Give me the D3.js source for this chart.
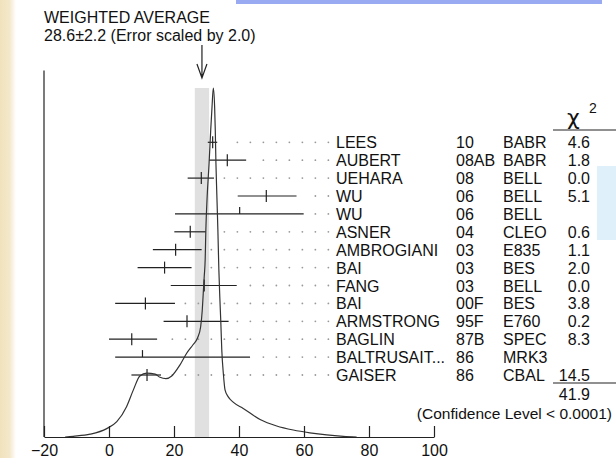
<!DOCTYPE html>
<meta charset="utf-8">
<style>
body { margin: 0; background: #fff; }
text { font-family: "Liberation Sans", Arial, Helvetica, sans-serif; fill: #111; }
.bar { stroke: #222; stroke-width: 1.2px; fill: none; }
.ideo { fill: none; stroke: #333; stroke-width: 1.2px; }
.axis path, .axis line { stroke: #222; stroke-width: 1.2px; }
.axis text { font-size: 16px; }
.dot { fill: #999; }
</style>
<body>
<script src="https://d3js.org/d3.v7.min.js"></script>
<script>
// measurements, top to bottom
var names = ["LEES", "AUBERT", "UEHARA", "WU", "WU", "ASNER", "AMBROGIANI", "BAI", "FANG",
    "BAI", "ARMSTRONG", "BAGLIN", "BALTRUSAIT...", "GAISER"];
var years = ["10", "08AB", "08", "06", "06", "04", "03", "03", "03", "00F", "95F", "87B", "86", "86"];
var techs = ["BABR", "BABR", "BELL", "BELL", "BELL", "CLEO", "E835", "BES", "BELL", "BES",
    "E760", "SPEC", "MRK3", "CBAL"];
var chi2 = ["4.6", "1.8", "0.0", "5.1", "", "0.6", "1.1", "2.0", "0.0", "3.8", "0.2", "8.3", "", "14.5"];
var values = [31.9, 36.4, 28.4, 48.4, 40.2, 25.0, 20.5, 17.1, 29.3, 11.2, 24.0, 7.0, 10.3, 11.7];
var errLo  = [1.5, 5.6, 4.2, 8.8, 19.9, 4.9, 7.0, 8.3, 10.3, 9.3, 7.2, 7.0, 8.4, 4.8];
var errHi  = [1.4, 5.8, 3.9, 9.3, 19.7, 4.8, 8.0, 8.3, 10.0, 9.1, 12.8, 7.8, 33.1, 4.3];
var usedInFit = [1, 1, 1, 1, 0, 1, 1, 1, 1, 1, 1, 1, 0, 1];

// weighted average
var avg = 28.6, avgErr = 2.2;
var chi2Total = "41.9";

// ideogram (x value, relative height)
var curveX = [-13.5, -11, -5.8, -0.7, 2.4, 5.4, 7.5, 9.5, 11.6, 14.2, 15.7, 17.5, 19.3, 21.8, 23.9,
    25.9, 27.3, 28.2, 28.7, 29.0, 29.3, 29.6, 29.8, 30.2, 30.8, 31.3, 31.7, 32.1, 32.5, 32.7, 32.9,
    33.2, 33.5, 33.8, 34.1, 34.4, 34.7, 35.2, 35.7, 36.7, 38.2, 41.3, 46.5, 51.6, 56.7, 61.8, 67, 72.1, 76.2];
var curveY = [0, 0.2, 0.8, 2.4, 4.4, 8.7, 13.5, 17.5, 18.3, 18.0, 17.1, 16.7, 17.5, 20.6, 24.0,
    26.5, 28.5, 31.6, 36.4, 41.2, 46, 51, 59.3, 68.8, 78.5, 88, 94.6, 100, 94.6, 88, 78.5,
    68.8, 59.3, 48, 40, 33, 25, 18, 13.5, 11.5, 10, 8.2, 5.0, 3.15, 2.0, 1.2, 0.6, 0.2, 0];

var xTicks = [-20, 0, 20, 40, 60, 80, 100];

var W = 616, H = 458;
var svg = d3.select("body").append("svg")
    .attr("width", W)
    .attr("height", H);

// slide background bits around the figure
var grad = svg.append("defs").append("linearGradient").attr("id", "paper");
grad.append("stop").attr("offset", "0%").attr("stop-color", "#f1e2bd");
grad.append("stop").attr("offset", "60%").attr("stop-color", "#f4e8cb");
grad.append("stop").attr("offset", "100%").attr("stop-color", "#fff");
svg.append("rect").attr("x", 0).attr("y", 0).attr("width", 16).attr("height", H).attr("fill", "url(#paper)");
svg.append("rect").attr("x", 236).attr("y", 0).attr("width", 366).attr("height", 4).attr("fill", "#9aaaf2");
svg.append("rect").attr("x", 597).attr("y", 166).attr("width", 19).attr("height", 74).attr("fill", "#dff0fb");

var x = d3.scaleLinear().domain([-20, 100]).range([44, 434]);
var yDen = d3.scaleLinear().domain([0, 100]).range([437, 88]);
var row = d3.scaleLinear().domain([0, names.length - 1]).range([142.3, 375]);

// error of the average
svg.append("rect")
    .attr("x", x(avg - avgErr))
    .attr("y", yDen(100))
    .attr("width", x(avg + avgErr) - x(avg - avgErr))
    .attr("height", yDen(0) - yDen(100))
    .attr("fill", "#e0e0e0");

// leader dots
var dotVals = d3.range(67.5, -20, -4);
names.forEach(function(n, i) {
    var end = x(values[i] + errHi[i]);
    svg.append("g").selectAll("circle")
        .data(dotVals.filter(function(v) { return x(v) > end + 8; }))
        .enter().append("circle")
        .attr("class", "dot")
        .attr("cx", function(v) { return x(v); })
        .attr("cy", row(i))
        .attr("r", 0.9);
});

// error bars
var bars = svg.append("g").selectAll("g")
    .data(values)
    .enter().append("g");
bars.append("line")
    .attr("class", "bar")
    .attr("x1", function(d, i) { return x(d - errLo[i]); })
    .attr("x2", function(d, i) { return x(d + errHi[i]); })
    .attr("y1", function(d, i) { return row(i); })
    .attr("y2", function(d, i) { return row(i); });
bars.append("line")
    .attr("class", "bar")
    .attr("x1", function(d) { return x(d); })
    .attr("x2", function(d) { return x(d); })
    .attr("y1", function(d, i) { return row(i) - (usedInFit[i] ? 6 : 7); })
    .attr("y2", function(d, i) { return usedInFit[i] ? row(i) + 6 : row(i); });

// ideogram
var line = d3.line()
    .x(function(d) { return x(d[0]); })
    .y(function(d) { return yDen(d[1]); })
    .curve(d3.curveMonotoneX);
svg.append("path")
    .datum(curveX.map(function(v, i) { return [v, curveY[i]]; }))
    .attr("class", "ideo")
    .attr("d", line);

// axes
var xAxis = svg.append("g")
    .attr("class", "axis")
    .attr("transform", "translate(0," + yDen(0) + ")")
    .call(d3.axisBottom(x).tickValues(xTicks).tickSizeInner(-11).tickSizeOuter(0).tickPadding(8));
xAxis.selectAll("text").attr("fill", "#111");
svg.append("line")
    .attr("x1", x(-20)).attr("x2", x(-20))
    .attr("y1", yDen(105)).attr("y2", yDen(0))
    .attr("stroke", "#222").attr("stroke-width", 1.2);

// arrow at the average
var ax = x(avg);
svg.append("path")
    .attr("d", "M" + ax + ",45V78M" + (ax - 5) + ",64L" + ax + ",78L" + (ax + 5) + ",64")
    .attr("fill", "none").attr("stroke", "#222").attr("stroke-width", 1.2);

// titles
svg.append("text").attr("x", 44).attr("y", 22.5).style("font-size", "16px").text("WEIGHTED AVERAGE");
svg.append("text").attr("x", 44).attr("y", 40.5).style("font-size", "16px")
    .text(avg + "\u00b1" + avgErr + " (Error scaled by 2.0)");

// table columns
var tbl = svg.append("g").style("font-size", "16px");
names.forEach(function(n, i) {
    var by = row(i) + 6;
    tbl.append("text").attr("x", 336).attr("y", by).text(n);
    tbl.append("text").attr("x", 456).attr("y", by).text(years[i]);
    tbl.append("text").attr("x", 503).attr("y", by).text(techs[i]);
    tbl.append("text").attr("x", 590).attr("y", by).attr("text-anchor", "end").text(chi2[i]);
});

// chi2 header and total
svg.append("text").attr("x", 567).attr("y", 125)
    .style("font-family", "'DejaVu Sans', sans-serif").style("font-size", "22px").text("\u03c7");
svg.append("text").attr("x", 589).attr("y", 113).style("font-size", "14px").text("2");
svg.append("line").attr("x1", 553).attr("x2", 616).attr("y1", 130).attr("y2", 130)
    .attr("stroke", "#222").attr("stroke-width", 1.2);
svg.append("line").attr("x1", 553).attr("x2", 616).attr("y1", 383).attr("y2", 383)
    .attr("stroke", "#222").attr("stroke-width", 1.2);
svg.append("text").attr("x", 590).attr("y", 400).attr("text-anchor", "end")
    .style("font-size", "16px").text(chi2Total);
svg.append("text").attr("x", 612).attr("y", 419).attr("text-anchor", "end")
    .style("font-size", "15.5px").text("(Confidence Level < 0.0001)");
</script>
</body>
